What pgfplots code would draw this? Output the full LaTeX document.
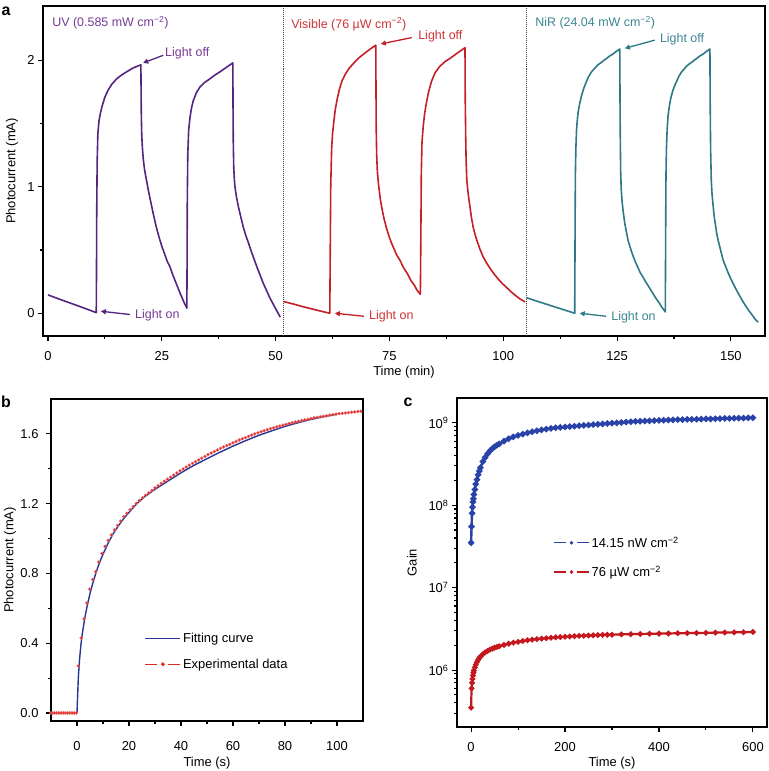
\documentclass[border=0pt]{standalone}
\usepackage{fontspec}
\setmainfont{Liberation Sans}
\usepackage{pgfplots}
\pgfplotsset{compat=1.18}
\usetikzlibrary{arrows.meta}

\definecolor{uvline}{RGB}{84,36,128}
\definecolor{uvtext}{RGB}{118,58,150}
\definecolor{visline}{RGB}{196,30,38}
\definecolor{vistext}{RGB}{206,50,52}
\definecolor{nirline}{RGB}{46,120,136}
\definecolor{nirtext}{RGB}{60,134,146}
\definecolor{fitblue}{RGB}{40,52,150}
\definecolor{expred}{RGB}{224,40,36}
\definecolor{cblue}{RGB}{40,66,168}
\definecolor{cred}{RGB}{196,24,30}

\newcommand{\fs}{\fontsize{13}{15}\selectfont}
\newcommand{\fa}{\fontsize{12.5}{15}\selectfont}

\pgfplotsset{
  panel/.style={
    scale only axis,
    axis line style={line width=1.3bp},
    tick style={line width=1.1bp, black},
    tick align=outside,
    xtick pos=left, ytick pos=left,
    major tick length=5bp, minor tick length=3bp,
    /pgf/number format/assume math mode=true,
    tick label style={font=\fs},
    label style={font=\fs},
  },
}
\tikzset{
  ann/.style={font=\fa, anchor=west, inner sep=0pt},
  arr/.style={line width=1.3bp, -{Triangle[length=5bp,width=5bp]}},
}

\begin{document}
\begin{tikzpicture}
\useasboundingbox (0,0) rectangle (769bp,-771bp);

\node[font=\fontsize{16}{18}\selectfont\bfseries] at (6bp,-11bp) {a};
\node[font=\fontsize{16}{18}\selectfont\bfseries] at (6bp,-402bp) {b};
\node[font=\fontsize{16}{18}\selectfont\bfseries] at (408bp,-402bp) {c};

% ---------------- panel a ----------------
\begin{axis}[panel,
  at={(43bp,-336bp)}, anchor=south west,
  width=722bp, height=330bp,
  xmin=-1.1, xmax=157.5, ymin=-0.18, ymax=2.43,
  xtick={0,25,50,75,100,125,150}, minor x tick num=1,
  ytick={0,1,2}, minor y tick num=1,
  xticklabel style={yshift=-7bp},
  xlabel={Time (min)}, ylabel={Photocurrent (mA)},
  xlabel style={at={(axis description cs:0.5,0)}, anchor=center, yshift=-36bp},
  ylabel style={at={(axis description cs:0,0.5)}, anchor=center, yshift=31bp},
]
\draw[densely dotted, line width=1bp, black!75] (axis cs:51.8,-0.18) -- (axis cs:51.8,2.43);
\draw[densely dotted, line width=1bp, black!75] (axis cs:105.0,-0.18) -- (axis cs:105.0,2.43);

\addplot[uvline, line width=1.6bp, line join=round] coordinates {
(0,0.145) (2,0.118) (4,0.092) (6,0.066) (8,0.040) (10.6,0.005)
(10.65,0.3) (10.7,0.8) (10.8,1.2) (10.95,1.42) (11.2,1.52) (11.5,1.58) (11.9,1.64)
(12.5,1.71) (13.2,1.765) (14.0,1.81) (15.1,1.855) (16.2,1.885) (17.3,1.91) (18.7,1.94) (20.4,1.965)
(20.45,1.75) (20.5,1.55) (20.6,1.40) (20.75,1.30) (20.95,1.21) (21.2,1.14) (21.45,1.085)
(21.7,1.04) (22.0,0.98) (22.4,0.91) (22.75,0.85) (23.1,0.79) (23.45,0.735) (23.8,0.68)
(24.2,0.627) (24.6,0.577) (25.1,0.52) (25.7,0.46) (26.2,0.41) (26.8,0.366) (27.4,0.305)
(28.0,0.25) (28.5,0.205) (29.0,0.16) (29.7,0.10) (30.5,0.04)
(30.55,0.4) (30.6,0.9) (30.7,1.25) (30.9,1.45) (31.2,1.55) (31.5,1.62) (31.9,1.68)
(32.6,1.745) (33.4,1.79) (34.4,1.825) (35.6,1.855) (36.7,1.885) (37.8,1.91) (39.2,1.945) (40.6,1.98)
(40.65,1.6) (40.7,1.35) (40.8,1.15) (40.95,1.05) (41.1,0.99) (41.4,0.92) (41.75,0.855)
(42.1,0.80) (42.5,0.74) (42.9,0.68) (43.45,0.615) (44.0,0.56) (44.55,0.50) (45.1,0.445)
(45.8,0.375) (46.5,0.31) (47.25,0.24) (48.0,0.18) (48.75,0.12) (49.5,0.07) (50.25,0.02) (51.0,-0.03)
};
\addplot[visline, line width=1.6bp, line join=round] coordinates {
(51.8,0.092) (54,0.072) (56,0.052) (58,0.034) (60,0.016) (61.9,0.0)
(62.0,0.5) (62.1,1.0) (62.3,1.3) (62.5,1.42) (62.8,1.52) (63.1,1.61) (63.5,1.69)
(64.0,1.77) (64.6,1.84) (65.3,1.89) (66.2,1.94) (67.2,1.98) (68.3,2.02) (69.5,2.055)
(70.8,2.09) (72.0,2.12)
(72.05,1.75) (72.1,1.45) (72.2,1.25) (72.35,1.12) (72.6,1.02) (72.8,0.96) (73.0,0.90)
(73.4,0.82) (73.8,0.75) (74.3,0.68) (74.8,0.62) (75.4,0.56) (76.0,0.51) (76.6,0.46)
(77.3,0.42) (78.1,0.36) (79.0,0.31) (79.7,0.26) (80.5,0.22) (81.1,0.18) (81.8,0.15)
(81.9,0.6) (82.0,1.1) (82.15,1.35) (82.4,1.47) (82.7,1.57) (83.1,1.66) (83.6,1.75)
(84.2,1.83) (85.0,1.90) (86.0,1.95) (87.2,1.99) (88.5,2.02) (90.0,2.06) (91.6,2.10)
(91.65,1.7) (91.75,1.4) (91.85,1.2) (92.0,1.05) (92.3,0.946) (92.5,0.89) (92.7,0.84)
(93.0,0.76) (93.4,0.68) (93.8,0.625) (94.2,0.577) (94.9,0.505) (95.6,0.445) (96.3,0.40)
(97.1,0.355) (98.0,0.31) (98.9,0.27) (99.8,0.235) (100.7,0.205) (101.7,0.17) (102.7,0.14)
(103.7,0.113) (104.8,0.09)
};
\addplot[nirline, line width=1.6bp, line join=round] coordinates {
(105.0,0.124) (107,0.100) (109,0.077) (111,0.054) (113,0.031) (115.7,0.0)
(115.75,0.4) (115.8,0.8) (115.85,1.1) (115.95,1.3) (116.1,1.45) (116.3,1.54) (116.5,1.6)
(116.8,1.66) (117.2,1.72) (117.7,1.78) (118.3,1.835) (118.8,1.875) (119.3,1.905)
(119.9,1.93) (120.5,1.955) (121.0,1.97) (121.6,1.985) (122.1,2.0) (122.7,2.015)
(123.4,2.035) (124.1,2.05) (124.8,2.07) (125.6,2.09)
(125.65,1.7) (125.72,1.35) (125.8,1.12) (125.9,0.99) (126.1,0.885) (126.4,0.79)
(126.7,0.71) (127.1,0.635) (127.4,0.58) (127.8,0.53) (128.2,0.485) (128.6,0.445)
(129.1,0.40) (129.6,0.36) (130.1,0.32) (130.7,0.287) (131.2,0.253) (131.8,0.22)
(132.3,0.19) (132.9,0.156) (133.5,0.12) (134.2,0.085) (134.9,0.045) (135.6,0.01)
(135.65,0.4) (135.7,0.8) (135.75,1.1) (135.85,1.3) (136.0,1.45) (136.2,1.56) (136.5,1.64)
(136.8,1.70) (137.2,1.755) (137.6,1.795) (138.1,1.835) (138.6,1.875) (139.1,1.905)
(139.7,1.93) (140.3,1.955) (140.8,1.97) (141.4,1.985) (141.9,2.0) (142.5,2.015)
(143.2,2.035) (143.9,2.05) (144.6,2.07) (145.4,2.09)
(145.45,1.7) (145.55,1.3) (145.7,1.05) (145.85,0.95) (146.0,0.89) (146.2,0.815)
(146.4,0.75) (146.65,0.69) (146.9,0.63) (147.25,0.57) (147.6,0.52) (147.95,0.47)
(148.3,0.42) (148.85,0.37) (149.4,0.32) (149.95,0.275) (150.5,0.235) (151.2,0.185)
(151.9,0.14) (152.6,0.095) (153.4,0.05) (154.0,0.018) (154.7,-0.015) (155.3,-0.045) (156.0,-0.07)
};

\node[ann, text=uvtext] at (axis cs:0.9,2.30) {UV (0.585 mW cm\textsuperscript{−2})};
\node[ann, text=uvtext] at (axis cs:25.7,2.06) {Light off};
\draw[arr, uvline] (axis cs:25.3,2.04) -- (axis cs:20.9,1.98);
\node[ann, text=uvtext] at (axis cs:19.1,-0.015) {Light on};
\draw[arr, uvline] (axis cs:18.0,-0.01) -- (axis cs:11.6,0.016);

\node[ann, text=vistext] at (axis cs:53.4,2.285) {Visible (76 µW cm\textsuperscript{−2})};
\node[ann, text=vistext] at (axis cs:81.3,2.19) {Light off};
\draw[arr, visline] (axis cs:79.9,2.18) -- (axis cs:73.1,2.13);
\node[ann, text=vistext] at (axis cs:70.5,-0.024) {Light on};
\draw[arr, visline] (axis cs:69.4,-0.024) -- (axis cs:63.0,0.0);

\node[ann, text=nirtext] at (axis cs:107.0,2.30) {NiR (24.04 mW cm\textsuperscript{−2})};
\node[ann, text=nirtext] at (axis cs:134.4,2.17) {Light off};
\draw[arr, nirline] (axis cs:133.3,2.16) -- (axis cs:126.7,2.095);
\node[ann, text=nirtext] at (axis cs:123.7,-0.03) {Light on};
\draw[arr, nirline] (axis cs:122.6,-0.024) -- (axis cs:116.8,0.0);
\end{axis}

% ---------------- panel b ----------------
\begin{axis}[panel,
  at={(51bp,-721bp)}, anchor=south west,
  width=312bp, height=322bp,
  xmin=-10, xmax=110, ymin=-0.046, ymax=1.8,
  xtick={0,20,40,60,80,100}, minor x tick num=1,
  ytick={0,0.4,0.8,1.2,1.6}, minor y tick num=1,
  yticklabel style={xshift=-4bp, /pgf/number format/.cd, fixed, fixed zerofill, precision=1},
  xticklabel style={yshift=-12bp},
  xlabel={Time (s)}, ylabel={Photocurrent (mA)},
  xlabel style={at={(axis description cs:0.5,0)}, anchor=center, yshift=-42bp},
  ylabel style={at={(axis description cs:0,0.5)}, anchor=center, yshift=41bp},
  legend style={draw=none, fill=none, at={(axis description cs:0.30,0.28)}, anchor=north west,
    font=\fs, row sep=11bp, inner sep=0pt},
  legend cell align=left,
]
\addlegendimage{legend image code/.code={\draw[fitblue, line width=1.3bp] (0bp,0bp) -- (35bp,0bp);}}
\addlegendentry{Fitting curve}
\addlegendimage{legend image code/.code={
  \draw[expred, line width=1.3bp] (0bp,0bp) -- (12bp,0bp) (23bp,0bp) -- (35bp,0bp);
  \fill[expred] (17.5bp,0bp) circle (1.8bp);}}
\addlegendentry{Experimental data}

\addplot[forget plot, only marks, mark=*, mark size=1.5bp, expred, mark options={fill=expred, draw=expred!70}] coordinates {
(-10,0) (-9.3,0) (-8.6,0) (-7.9,0) (-7.2,0) (-6.5,0) (-5.8,0) (-5.1,0) (-4.4,0)
(-3.7,0) (-3.0,0) (-2.3,0) (-1.6,0) (-0.9,0) (-0.2,0)
(0.5,0.27) (1.6,0.43) (2.7,0.54) (3.8,0.63) (4.9,0.71) (6.0,0.765) (7.2,0.81)
(8.4,0.865) (9.6,0.915) (10.8,0.955) (12.0,0.99) (13.2,1.02) (14.4,1.05) (15.6,1.075)
(16.8,1.10) (18.0,1.125) (19.2,1.145) (20.4,1.165) (21.6,1.183) (22.8,1.201) (24.0,1.218)
(25.2,1.233) (26.4,1.248) (27.6,1.262) (28.8,1.276) (30.0,1.290) (31.2,1.303) (32.4,1.316)
(33.6,1.328) (34.8,1.340) (36.0,1.352) (37.2,1.364) (38.4,1.376) (39.6,1.388) (40.8,1.399)
(42.0,1.410) (43.2,1.421) (44.4,1.431) (45.6,1.441) (46.8,1.451) (48.0,1.461) (49.2,1.471)
(50.4,1.481) (51.6,1.490) (52.8,1.499) (54.0,1.508) (55.2,1.517) (56.4,1.525) (57.6,1.533)
(58.8,1.541) (60.0,1.549) (61.2,1.557) (62.4,1.565) (63.6,1.572) (64.8,1.579) (66.0,1.586)
(67.2,1.593) (68.4,1.600) (69.6,1.606) (70.8,1.612) (72.0,1.618) (73.2,1.624) (74.4,1.630)
(75.6,1.635) (76.8,1.640) (78.0,1.645) (79.2,1.650) (80.4,1.655) (81.6,1.660) (82.8,1.664)
(84.0,1.668) (85.2,1.672) (86.4,1.676) (87.6,1.680) (88.8,1.684) (90.0,1.688) (91.2,1.692)
(92.4,1.695) (93.6,1.698) (94.8,1.701) (96.0,1.704) (97.2,1.707) (98.4,1.710) (99.6,1.713)
(100.8,1.716) (102.0,1.718) (103.2,1.720) (104.4,1.722) (105.6,1.724) (106.8,1.726)
(108.0,1.728) (109.2,1.730)
};
\addplot[forget plot, fitblue, line width=1.4bp] coordinates {
(0,0) (0.5,0.2) (1,0.31) (1.5,0.39) (2,0.45) (3,0.545) (4,0.62) (5,0.685) (6,0.74)
(7,0.79) (8,0.835) (9,0.875) (10,0.91) (12,0.975) (14,1.03) (16,1.075) (18,1.115)
(20,1.15) (23,1.2) (26,1.24) (30,1.282) (35,1.33) (40,1.377) (45,1.42) (50,1.458)
(55,1.495) (60,1.53) (65,1.562) (70,1.592) (75,1.618) (80,1.643) (85,1.664)
(90,1.683) (95,1.699) (100,1.713)
};
\end{axis}

% ---------------- panel c ----------------
\begin{axis}[panel,
  at={(457bp,-727bp)}, anchor=south west,
  width=310bp, height=329bp,
  ymode=log,
  xmin=-30, xmax=630, ymin=2.04e5, ymax=2.0e9,
  xtick={0,200,400,600}, minor x tick num=1,
  ytick={1e6,1e7,1e8,1e9},
  yticklabels={10\textsuperscript{6},10\textsuperscript{7},10\textsuperscript{8},10\textsuperscript{9}},
  minor ytick={3e5,4e5,5e5,6e5,7e5,8e5,9e5,2e6,3e6,4e6,5e6,6e6,7e6,8e6,9e6,
    2e7,3e7,4e7,5e7,6e7,7e7,8e7,9e7,2e8,3e8,4e8,5e8,6e8,7e8,8e8,9e8},
  xticklabel style={yshift=-7bp},
  xlabel={Time (s)}, ylabel={Gain},
  xlabel style={at={(axis description cs:0.5,0)}, anchor=center, yshift=-36bp},
  ylabel style={at={(axis description cs:0,0.5)}, anchor=center, yshift=45bp},
  legend style={draw=none, fill=none, at={(axis description cs:0.31,0.585)}, anchor=north west,
    font=\fs, row sep=13bp, inner sep=0pt},
  legend cell align=left,
]
\addlegendimage{legend image code/.code={
  \draw[cblue, line width=1.3bp] (0bp,0bp) -- (12bp,0bp) (23bp,0bp) -- (35bp,0bp);
  \fill[cblue] (17.5bp,0bp) circle (1.6bp);}}
\addlegendentry{14.15 nW cm\textsuperscript{−2}}
\addlegendimage{legend image code/.code={
  \draw[cred, line width=1.3bp] (0bp,0bp) -- (12bp,0bp) (23bp,0bp) -- (35bp,0bp);
  \fill[cred] (17.5bp,0bp) circle (1.6bp);}}
\addlegendentry{76 µW cm\textsuperscript{−2}}

\addplot[forget plot, cblue, line width=2.4bp, mark=*, mark size=1.8bp] coordinates {
(0,3.5e7) (1,5.5e7) (2,8.0e7) (3,9.5e7) (4,1.1e8) (5,1.2e8) (6,1.35e8) (8,1.55e8)
(10,1.8e8) (12.5,2.05e8) (15,2.35e8) (17.5,2.6e8) (20,2.85e8) (25,3.4e8) (30,3.8e8)
(35,4.2e8) (40,4.55e8) (45,4.85e8) (50,5.1e8) (55,5.35e8) (60,5.55e8) (70,6.0e8)
(80,6.4e8) (90,6.75e8) (100,7.05e8) (110,7.3e8) (120,7.55e8) (130,7.8e8) (140,8.0e8)
(150,8.2e8) (160,8.4e8) (170,8.55e8) (180,8.7e8) (190,8.8e8) (200,8.9e8) (210,9.0e8)
(220,9.1e8) (230,9.2e8) (240,9.3e8) (250,9.4e8) (260,9.5e8) (270,9.6e8) (280,9.7e8)
(290,9.8e8) (300,9.9e8) (310,1.0e9) (320,1.01e9) (330,1.02e9) (340,1.03e9) (350,1.04e9)
(360,1.045e9) (370,1.05e9) (380,1.055e9) (390,1.06e9) (400,1.07e9) (410,1.075e9)
(420,1.08e9) (430,1.085e9) (440,1.09e9) (450,1.095e9) (460,1.1e9) (470,1.1e9)
(480,1.105e9) (490,1.11e9) (500,1.115e9) (510,1.115e9) (520,1.12e9) (530,1.125e9)
(540,1.13e9) (550,1.13e9) (560,1.135e9) (570,1.14e9) (580,1.14e9) (590,1.145e9) (600,1.15e9)
};
\addplot[forget plot, cred, line width=2.2bp, mark=*, mark size=1.6bp] coordinates {
(0,3.5e5) (1,6.0e5) (2,7.0e5) (3,7.8e5) (4,8.6e5) (5,9.3e5) (6,9.9e5) (8,1.08e6)
(10,1.16e6) (12.5,1.25e6) (15,1.33e6) (17.5,1.40e6) (20,1.46e6) (25,1.56e6) (30,1.64e6)
(35,1.71e6) (40,1.77e6) (45,1.82e6) (50,1.87e6) (55,1.91e6) (60,1.95e6) (70,2.02e6)
(80,2.09e6) (90,2.15e6) (100,2.2e6) (110,2.25e6) (120,2.3e6) (130,2.34e6) (140,2.38e6)
(150,2.41e6) (160,2.44e6) (170,2.47e6) (180,2.5e6) (190,2.52e6) (200,2.54e6) (210,2.56e6)
(220,2.58e6) (230,2.6e6) (240,2.61e6) (250,2.63e6) (260,2.64e6) (270,2.66e6) (280,2.67e6)
(290,2.68e6) (300,2.69e6) (320,2.71e6) (340,2.73e6) (360,2.74e6) (380,2.76e6) (400,2.77e6)
(420,2.78e6) (440,2.8e6) (460,2.81e6) (480,2.82e6) (500,2.83e6) (520,2.85e6) (540,2.86e6)
(560,2.87e6) (580,2.88e6) (600,2.9e6)
};
\end{axis}
\end{tikzpicture}
\end{document}
